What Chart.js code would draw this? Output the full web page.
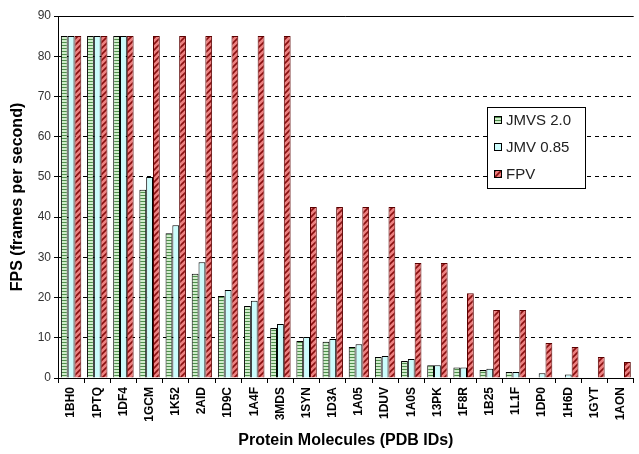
<!DOCTYPE html>
<html>
<head>
<meta charset="utf-8">
<script src="https://cdn.jsdelivr.net/npm/chart.js@4.4.0/dist/chart.umd.min.js"></script>
<style>
  html, body { margin: 0; padding: 0; background: #fff; }
  #wrap { width: 639px; height: 454px; }
</style>
</head>
<body>
<div id="wrap"><canvas id="myChart" width="639" height="454"></canvas></div>
<script>
var molecules = ["1BH0", "1PTQ", "1DF4", "1GCM", "1K52", "2AID", "1D9C", "1A4F", "3MDS", "1SYN", "1D3A",
  "1A05", "1DUV", "1A0S", "13PK", "1F8R", "1B25", "1L1F", "1DP0", "1H6D", "1GYT", "1AON"];
var jmvs = [85, 85, 85, 46.8, 36, 25.9, 20.4, 17.9, 12.4, 9.2, 9.0,
  7.7, 5.2, 4.2, 3.2, 2.6, 2.0, 1.5, 0, 0, 0, 0];
var jmv = [85, 85, 85, 50, 38, 28.8, 21.9, 19.2, 13.4, 10.2, 9.7,
  8.4, 5.5, 4.7, 3.2, 2.6, 2.3, 1.5, 1.2, 0.9, 0, 0];
var fpv = [85, 85, 85, 85, 85, 85, 85, 85, 85, 42.5, 42.5,
  42.5, 42.5, 28.6, 28.6, 21.1, 16.9, 16.9, 8.7, 7.7, 5.2, 4.0];
var yTicks = [0, 10, 20, 30, 40, 50, 60, 70, 80, 90];

function makePattern(kind) {
  var c = document.createElement("canvas");
  var ctx = c.getContext("2d");
  if (kind === "h") {
    c.width = 4; c.height = 3;
    ctx.fillStyle = "#d0eecb";
    ctx.fillRect(0, 0, 4, 3);
    ctx.fillStyle = "#4f8f4c";
    ctx.fillRect(0, 0, 4, 1);
  } else if (kind === "d") {
    c.width = 6; c.height = 6;
    ctx.fillStyle = "#ec8080";
    ctx.fillRect(0, 0, 6, 6);
    ctx.strokeStyle = "#8a1010";
    ctx.lineWidth = 1.6;
    ctx.beginPath();
    ctx.moveTo(-1, 7); ctx.lineTo(7, -1);
    ctx.moveTo(-4, 4); ctx.lineTo(4, -4);
    ctx.moveTo(2, 10); ctx.lineTo(10, 2);
    ctx.stroke();
  }
  return document.getElementById("myChart").getContext("2d").createPattern(c, "repeat");
}

var greenFill = makePattern("h");
var redFill = makePattern("d");
var cyanFill = "#ccfcfc";

var boxLegend = {
  id: "boxLegend",
  afterDraw: function (chart) {
    var ctx = chart.ctx;
    var x = 487, y = 107, w = 98, h = 81;
    ctx.save();
    ctx.fillStyle = "#fff";
    ctx.fillRect(x, y, w, h);
    ctx.strokeStyle = "#000";
    ctx.lineWidth = 1;
    ctx.strokeRect(x + 0.5, y + 0.5, w, h);
    var rows = [120, 147, 174];
    ctx.font = "15px 'Liberation Sans', Arial, sans-serif";
    ctx.textBaseline = "middle";
    chart.data.datasets.forEach(function (ds, i) {
      ctx.fillStyle = ds.backgroundColor;
      ctx.fillRect(494, rows[i] - 4, 8, 8);
      ctx.strokeStyle = "#000";
      ctx.strokeRect(494.5, rows[i] - 3.5, 7, 7);
      ctx.fillStyle = "#222";
      ctx.fillText(ds.label, 506, rows[i] + 1);
    });
    ctx.restore();
  },
  beforeDatasetsDraw: function (chart) {
    var ctx = chart.ctx, a = chart.chartArea;
    ctx.save();
    ctx.strokeStyle = "#000";
    ctx.lineWidth = 1;
    ctx.beginPath();
    ctx.moveTo(a.left, a.top + 0.5);
    ctx.lineTo(a.right, a.top + 0.5);
    ctx.stroke();
    ctx.restore();
  }
};

var ctx = document.getElementById("myChart").getContext("2d");
var myChart = new Chart(ctx, {
  type: "bar",
  data: {
    labels: molecules,
    datasets: [
      {
        label: "JMVS 2.0",
        data: jmvs,
        backgroundColor: greenFill,
        borderColor: "#000",
        borderWidth: 1,
      },
      {
        label: "JMV 0.85",
        data: jmv,
        backgroundColor: cyanFill,
        borderColor: "#000",
        borderWidth: 1,
      },
      {
        label: "FPV",
        data: fpv,
        backgroundColor: redFill,
        borderColor: "#5a0000",
        borderWidth: 1,
      },
    ],
  },
  plugins: [boxLegend],
  options: {
    responsive: false,
    animation: false,
    layout: { padding: { left: 0, right: 0, top: 16, bottom: 0 } },
    categoryPercentage: 0.78,
    barPercentage: 1.0,
    plugins: {
      legend: { display: false },
      tooltip: { enabled: false },
    },
    scales: {
      x: {
        grid: { drawOnChartArea: false, color: "#000", tickLength: 5 },
        border: { color: "#000", width: 1 },
        ticks: {
          maxRotation: 90,
          minRotation: 90,
          autoSkip: false,
          color: "#000",
          padding: 4,
          font: { family: "'Liberation Sans', Arial, sans-serif", size: 12, weight: "bold" },
        },
        title: {
          display: true,
          text: "Protein Molecules (PDB IDs)",
          color: "#000",
          padding: { top: 6, bottom: 4 },
          font: { family: "'Liberation Sans', Arial, sans-serif", size: 16, weight: "bold" },
        },
        afterFit: function (scale) { scale.height = 76; },
      },
      y: {
        min: 0,
        max: 90,
        afterBuildTicks: function (scale) {
          scale.ticks = yTicks.map(function (v) { return { value: v }; });
        },
        grid: {
          color: function (c) {
            return c.tick.value === 0 || c.tick.value === 90 ? "rgba(0,0,0,0)" : "#000";
          },
          tickColor: "#000",
          tickLength: 4,
          tickBorderDash: [],
        },
        border: { color: "#000", width: 1, dash: [4, 4] },
        ticks: {
          color: "#333",
          padding: 3,
          font: { family: "'Liberation Sans', Arial, sans-serif", size: 12 },
        },
        title: {
          display: true,
          text: "FPS (frames per second)",
          color: "#000",
          padding: { top: 8, bottom: 0 },
          font: { family: "'Liberation Sans', Arial, sans-serif", size: 16, weight: "bold" },
        },
        afterFit: function (scale) { scale.width = 58; },
      },
    },
  },
});
</script>
</body>
</html>
